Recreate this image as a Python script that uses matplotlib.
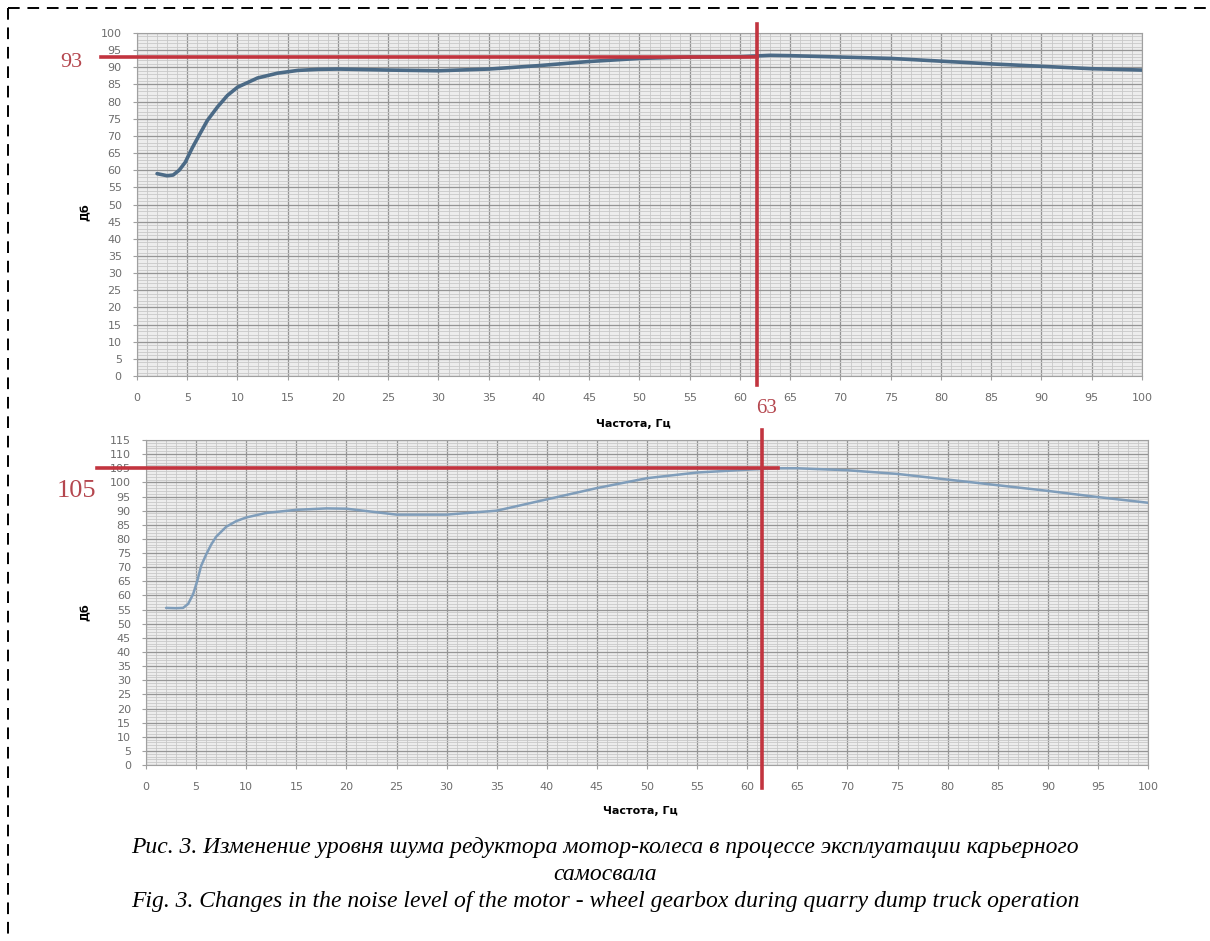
import numpy as np
import matplotlib.pyplot as plt
from matplotlib.ticker import MultipleLocator
from matplotlib.lines import Line2D

# top chart - noise level, first measurement
freq_top = [2, 3, 3.6, 4.2, 4.8, 5.5, 6.3, 7, 8, 9, 10, 12, 14, 16, 18, 20, 25, 30,
            35, 40, 45, 50, 55, 60, 63, 65, 70, 75, 80, 85, 90, 95, 100]
db_top = [59, 58.4, 58.6, 60, 62.3, 66.5, 70.8, 74.5, 78.4, 81.8, 84.2, 86.9, 88.3,
          89.1, 89.4, 89.5, 89.2, 89.0, 89.5, 90.5, 91.7, 92.6, 93.0, 93.1, 93.5,
          93.4, 93.0, 92.6, 91.8, 91.0, 90.3, 89.6, 89.2]

# bottom chart - noise level, second measurement
freq_bot = [2, 3, 3.7, 4.2, 4.7, 5.1, 5.5, 6, 6.5, 7, 8, 9, 10, 12, 15, 18, 20, 25,
            30, 35, 40, 45, 50, 55, 60, 63, 65, 70, 75, 80, 85, 90, 95, 100]
db_bot = [55.6, 55.5, 55.6, 57, 60.5, 65, 70.5, 74.5, 78, 80.8, 84.3, 86.3, 87.6,
          89.2, 90.3, 90.8, 90.7, 88.6, 88.6, 90, 94, 98, 101.5, 103.5, 104.5, 105,
          105, 104.3, 103, 101, 99, 97, 94.8, 92.8]

xticks = list(range(0, 101, 5))
mark_top = (61.7, 93)
mark_bot = (61.5, 105)

red = '#c2343f'
tick_col = '#6d6d6d'

fig = plt.figure(figsize=(12.1, 9.41), dpi=100)


def grid_axes(rect, ymax, xdata, ydata, col, lw):
    ax = fig.add_axes(rect)
    ax.set_facecolor('#ededed')
    ax.set_xlim(0, 100)
    ax.set_ylim(0, ymax)
    ax.xaxis.set_major_locator(MultipleLocator(5))
    ax.yaxis.set_major_locator(MultipleLocator(5))
    ax.xaxis.set_minor_locator(MultipleLocator(1))
    ax.yaxis.set_minor_locator(MultipleLocator(1))
    ax.grid(which='major', color='#959595', lw=0.9)
    ax.grid(which='minor', color='#c8c8c8', lw=0.6)
    ax.set_axisbelow(True)
    for s in ax.spines.values():
        s.set_color('#a0a0a0')
    ax.tick_params(which='minor', length=0)
    ax.tick_params(axis='x', which='major', length=3, color='#a0a0a0', pad=9,
                   labelsize=8, labelcolor=tick_col)
    ax.tick_params(axis='y', which='major', length=3, color='#a0a0a0', pad=8,
                   labelsize=8, labelcolor=tick_col)
    ax.set_xticks(xticks)
    ax.plot(xdata, ydata, color=col, lw=lw, solid_capstyle='round', zorder=3)
    ax.set_xlabel('Частота, Гц', fontsize=8, fontweight='bold')
    return ax


ax1 = grid_axes([0.1132, 0.6004, 0.8306, 0.3645], 100, freq_top, db_top, '#4b6a86', 2.6)
ax2 = grid_axes([0.1207, 0.1870, 0.8281, 0.3454], 115, freq_bot, db_bot, '#7f9dba', 1.8)
ax1.xaxis.set_label_coords(0.4935, -0.125)
ax2.xaxis.set_label_coords(0.493, -0.125)

# red markers
ax1.plot([-3.6, mark_top[0]], [mark_top[1], mark_top[1]], color=red, lw=2.6,
         clip_on=False, zorder=4)
ax1.plot([mark_top[0], mark_top[0]], [102.5, -2.6], color=red, lw=2.6,
         clip_on=False, zorder=4)
ax1.text(-6.5, 91.5, '93', color='#b5474f', fontsize=16, family='Liberation Serif',
         ha='center', va='center')
ax1.text(62.6, -9.6, '63', color='#b5474f', fontsize=15, family='Liberation Serif',
         ha='center', va='center')

ax2.plot([-4.9, 63.1], [mark_bot[1], mark_bot[1]], color=red, lw=2.6,
         clip_on=False, zorder=4)
ax2.plot([mark_bot[0], mark_bot[0]], [118.5, -8], color=red, lw=2.6,
         clip_on=False, zorder=4)
ax2.text(-6.9, 97, '105', color='#b5474f', fontsize=19, family='Liberation Serif',
         ha='center', va='center')

fig.text(86 / 1210, 1 - 212 / 941, 'Дб', rotation=90, fontsize=8, fontweight='bold',
         ha='center', va='center')
fig.text(86 / 1210, 1 - 612 / 941, 'Дб', rotation=90, fontsize=8, fontweight='bold',
         ha='center', va='center')

cap = dict(fontsize=17, family='Liberation Serif', style='italic', ha='center',
           va='center')
fig.text(0.5, 1 - 847 / 941, 'Рис. 3. Изменение уровня шума редуктора мотор-колеса в '
         'процессе эксплуатации карьерного', **cap)
fig.text(0.5, 1 - 874 / 941, 'самосвала', **cap)
fig.text(0.5, 1 - 901 / 941, 'Fig. 3. Changes in the noise level of the motor - wheel '
         'gearbox during quarry dump truck operation', **cap)

# dashed frame on top and left
fig.add_artist(Line2D([8 / 1210, 1], [1 - 8 / 941, 1 - 8 / 941], color='black',
                      lw=1.4, ls=(0, (6, 4)), transform=fig.transFigure))
fig.add_artist(Line2D([8 / 1210, 8 / 1210], [1 - 8 / 941, 0], color='black',
                      lw=1.4, ls=(0, (6, 4)), transform=fig.transFigure))

fig.savefig('out.png', dpi=100)
